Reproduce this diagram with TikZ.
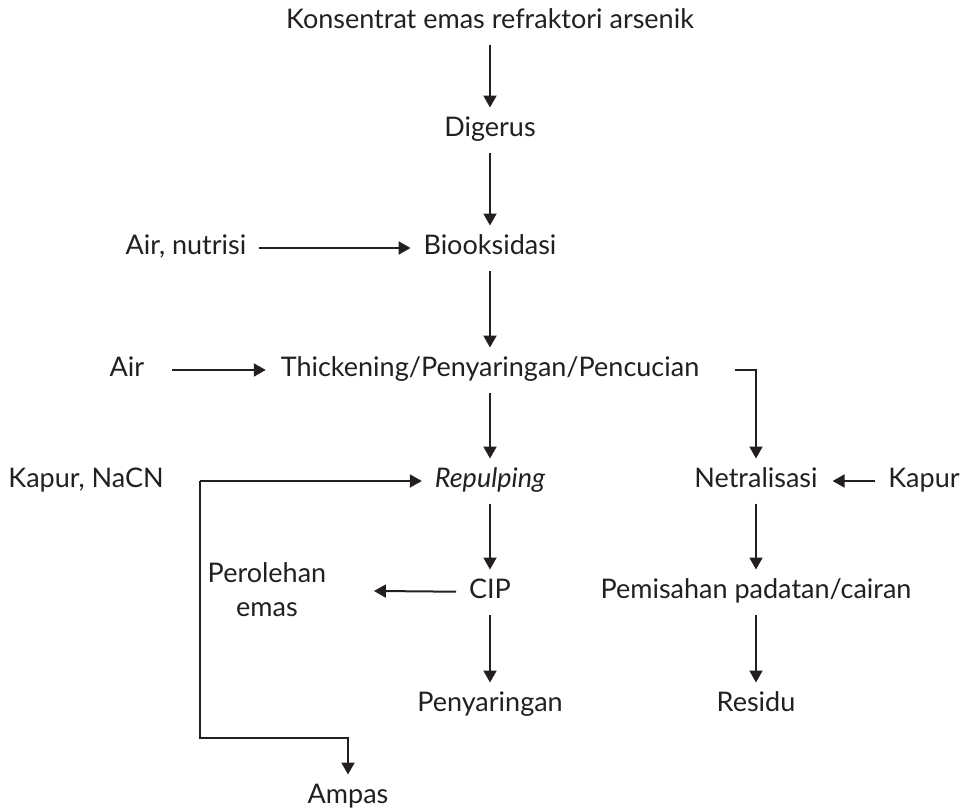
\documentclass[tikz,border=0pt]{standalone}
\usepackage{fontspec}
\setmainfont{Lato}
\usetikzlibrary{arrows.meta}
\definecolor{ink}{HTML}{231F20}

\begin{document}
\begin{tikzpicture}[x=0.5pt, y=-0.5pt, line width=1pt, draw=ink, text=ink,
    >={Triangle[length=6pt,width=6.5pt]},
    lbl/.style={text height=10pt, text depth=3.5pt, inner xsep=6pt, inner ysep=4pt, font=\fontsize{13.5}{17}\selectfont}]

    \useasboundingbox (0,0) rectangle (965,810);

    % main column
    \node(konsentrat)[lbl] at (490,22) {Konsentrat emas refraktori arsenik};
    \node(digerus)[lbl] at (490,130) {Digerus};
    \node(biooks)[lbl] at (490,248) {Biooksidasi};
    \node(thick)[lbl] at (490,370) {Thickening/Penyaringan/Pencucian};
    \node(repulp)[lbl] at (490,481) {\itshape Repulping};
    \node(cip)[lbl] at (490,592) {CIP};
    \node(saring)[lbl] at (490,705) {Penyaringan};
    \node(ampas)[lbl] at (348,797) {Ampas};

    % inputs on the left
    \node(air-nutrisi)[lbl] at (186,248) {Air, nutrisi};
    \node(air)[lbl] at (127,370) {Air};
    \node(kapur-nacn)[lbl] at (86,481) {Kapur, NaCN};
    \node(perolehan)[align=center, font=\fontsize{13.5}{17}\selectfont] at (267,590) {Perolehan\\emas};

    % right column
    \node(netral)[lbl] at (756,481) {Netralisasi};
    \node(kapur)[lbl] at (924,481) {Kapur};
    \node(pemisahan)[lbl] at (756,592) {Pemisahan padatan/cairan};
    \node(residu)[lbl] at (756,705) {Residu};

    \coordinate(split) at (200,481);
    \coordinate(bend) at (200,738);
    \coordinate(thick-out) at (735,370);

    \draw[->] (konsentrat) -- (digerus);
    \draw[->] (digerus) -- (biooks);
    \draw[->] (biooks) -- (thick);
    \draw[->] (thick) -- (repulp);
    \draw[->] (repulp) -- (cip);
    \draw[->] (cip) -- (saring);

    \draw[->] (air-nutrisi) -- (biooks);
    \draw[->, shorten <=7.5pt, shorten >=1pt] (air) -- (thick);
    \draw[->] (split) -- (repulp);
    \draw[->] (split) -- (bend) -| (ampas);
    \draw[->, shorten >=20pt] (cip) -- (perolehan);

    \draw[->] (thick-out) -| (netral);
    \draw[->, shorten >=1pt] (kapur) -- (netral);
    \draw[->] (netral) -- (pemisahan);
    \draw[->] (pemisahan) -- (residu);
  \end{tikzpicture}
\end{document}
